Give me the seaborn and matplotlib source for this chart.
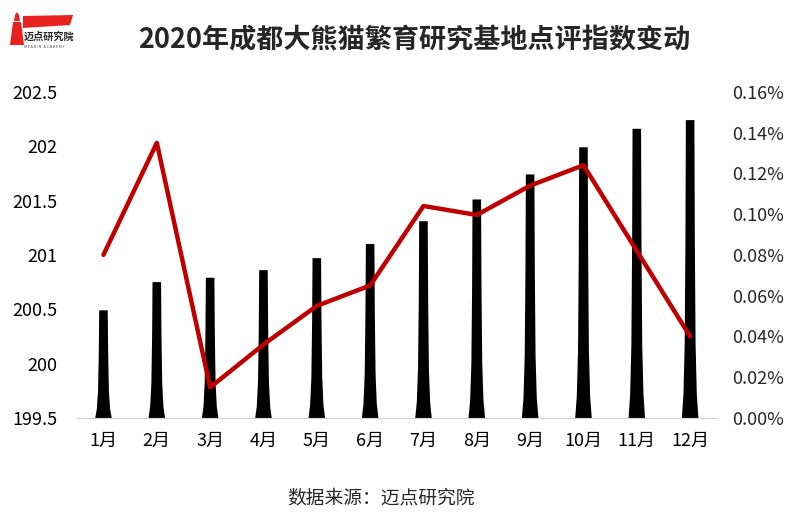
import seaborn as sns
import matplotlib.pyplot as plt
import matplotlib.patches as mpatches
import pandas as pd

# data
months = ['1月', '2月', '3月', '4月', '5月', '6月', '7月', '8月', '9月', '10月', '11月', '12月']
index_vals = [200.49, 200.75, 200.79, 200.86, 200.97, 201.10, 201.31, 201.51, 201.74, 201.99, 202.16, 202.24]
change_pct = [0.080, 0.135, 0.015, 0.036, 0.055, 0.065, 0.104, 0.0996, 0.114, 0.124, 0.082, 0.040]
left_ticks = [199.5, 200, 200.5, 201, 201.5, 202, 202.5]
left_labels = ['199.5', '200', '200.5', '201', '201.5', '202', '202.5']
right_ticks = [0, 0.02, 0.04, 0.06, 0.08, 0.10, 0.12, 0.14, 0.16]

df = pd.DataFrame({'month': months, 'index': index_vals, 'change': change_pct})

sns.set_style('white')
plt.rcParams['font.family'] = ['Noto Sans CJK SC', 'DejaVu Sans']

W, H = 800, 516
fig = plt.figure(figsize=(8, 5.16), dpi=100)
ax = fig.add_axes([0.096, 0.19, 0.8, 0.632])

sns.barplot(data=df, x='month', y='index', color='black', width=0.3, ax=ax)
ax.set_ylim(199.5, 202.5)

# taper the bars: narrow top, flared base
for p in list(ax.patches):
    cx = p.get_x() + p.get_width() / 2
    top = p.get_y() + p.get_height()
    base = 199.5
    h = top - base
    shape = [(0.155, 0.0), (0.125, 0.08), (0.102, 0.25), (0.088, 0.6), (0.08, 1.0)]
    left = [(cx - hw, base + f * h) for hw, f in shape]
    right = [(cx + hw, base + f * h) for hw, f in reversed(shape)]
    ax.add_patch(mpatches.Polygon(left + right, closed=True, color='black', lw=0))
    p.set_visible(False)

ax.set_yticks(left_ticks)
ax.set_yticklabels(left_labels)
ax.set_xlabel('')
ax.set_ylabel('')
ax.set_xlim(-0.5, 11.5)
ax.tick_params(axis='both', length=0, labelsize=13, colors='black')
ax.tick_params(axis='x', pad=10)
ax.tick_params(axis='y', pad=14)
for s in ['top', 'right', 'left']:
    ax.spines[s].set_visible(False)
ax.spines['bottom'].set_color('#d0d0d0')

ax2 = ax.twinx()
sns.lineplot(data=df, x='month', y='change', sort=False, color='#C00000',
             linewidth=3.2, ax=ax2)
ax2.set_ylim(0, 0.16)
ax2.set_yticks(right_ticks)
ax2.set_yticklabels([f'{t:.2f}%' for t in right_ticks])
ax2.set_ylabel('')
ax2.tick_params(axis='y', length=0, labelsize=13, pad=11)
for s in ['top', 'right', 'left', 'bottom']:
    ax2.spines[s].set_visible(False)
ax2.set_xlim(-0.5, 11.5)

fig.text(0.518, 0.922, '2020年成都大熊猫繁育研究基地点评指数变动', ha='center', va='center',
         fontsize=19.5, fontweight='bold')
fig.text(0.476, 0.035, '数据来源：迈点研究院', ha='center', va='center', fontsize=13.5)


# logo, drawn in pixel coordinates
def px(pts):
    return [(x / W, 1 - y / H) for x, y in pts]


red = '#e8231f'
fig.patches.append(mpatches.Polygon(px([(10, 45), (13, 22), (21, 22), (24, 45)]),
                                    closed=True, color=red, lw=0, transform=fig.transFigure))
fig.patches.append(mpatches.Polygon(px([(14, 21), (15, 15), (17, 12), (19, 15), (20, 21)]),
                                    closed=True, color=red, lw=0, transform=fig.transFigure))
fig.patches.append(mpatches.Polygon(px([(23, 16), (73, 15), (70, 25), (23, 28)]),
                                    closed=True, color=red, lw=0, transform=fig.transFigure))
fig.text(24 / W, 1 - 37 / H, '迈点研究院', fontsize=7.3, fontweight='bold', va='center')
fig.text(24 / W, 1 - 47 / H, 'M E A D I N   A C A D E M Y', fontsize=2.6, va='center', color='#444444')

fig.savefig('out.png', dpi=100)
